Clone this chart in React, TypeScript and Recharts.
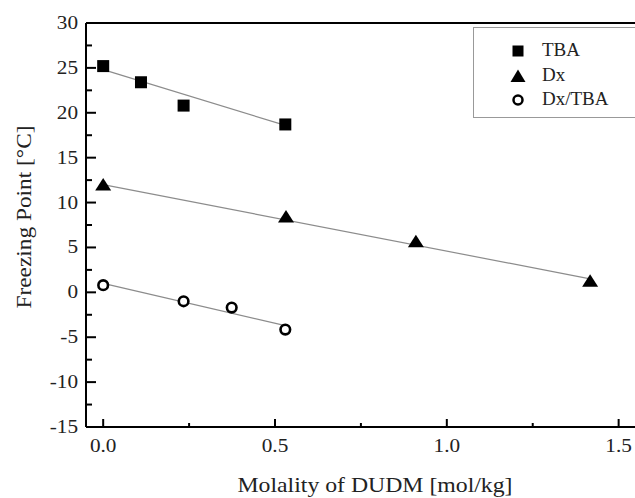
import React from 'react';
import { ComposedChart, Line, Scatter, XAxis, YAxis, ReferenceLine, Legend, Label } from 'recharts';

// measured points (molality [mol/kg], freezing point [°C])
const tbaMolality = [0, 0.11, 0.234, 0.53];
const tbaFreezing = [25.2, 23.4, 20.8, 18.7];
const dxMolality = [0, 0.532, 0.91, 1.417];
const dxFreezing = [12.0, 8.45, 5.7, 1.3];
const mixMolality = [0, 0.234, 0.374, 0.53];
const mixFreezing = [0.8, -1.0, -1.7, -4.15];

// fitted lines, end points
const tbaFitX = [0, 0.53];
const tbaFitY = [24.8, 18.6];
const dxFitX = [0, 1.417];
const dxFitY = [12.0, 1.5];
const mixFitX = [0, 0.53];
const mixFitY = [1.0, -3.7];

const xTicks = [0, 0.25, 0.5, 0.75, 1.0, 1.25, 1.5];
const xMajor = [0, 0.5, 1.0, 1.5];
const yTicks = [-15, -12.5, -10, -7.5, -5, -2.5, 0, 2.5, 5, 7.5, 10, 12.5, 15, 17.5, 20, 22.5, 25, 27.5, 30];

const legendNames = ['TBA', 'Dx', 'Dx/TBA'];

const FONT = '"Liberation Serif", "DejaVu Serif", serif';
const LINE_GRAY = '#8c8c8c';
const TEXT = '#222';
const STRETCH = 1.18; // the figure's lettering is a bit wider than the font

const toPoints = (xs: number[], ys: number[]) => xs.map((x, i) => ({ x, y: ys[i] }));

const tbaData = toPoints(tbaMolality, tbaFreezing);
const dxData = toPoints(dxMolality, dxFreezing);
const mixData = toPoints(mixMolality, mixFreezing);
const tbaFit = toPoints(tbaFitX, tbaFitY);
const dxFit = toPoints(dxFitX, dxFitY);
const mixFit = toPoints(mixFitX, mixFitY);

const SquareMark = ({ cx, cy }: any) => (
  <rect x={cx - 6} y={cy - 6} width={12} height={12} fill="#000" />
);
const TriangleMark = ({ cx, cy }: any) => (
  <polygon points={`${cx},${cy - 6.5} ${cx + 8},${cy + 6} ${cx - 8},${cy + 6}`} fill="#000" />
);
const CircleMark = ({ cx, cy }: any) => (
  <circle cx={cx} cy={cy} r={4.8} fill="#fff" stroke="#000" strokeWidth={2.6} />
);

// ticks point into the plot, minor ones are shorter and carry no label
const YTick = ({ x, y, payload }: any) => {
  const v = payload.value;
  const major = v % 5 === 0;
  return (
    <g>
      <line x1={x} x2={x + (major ? 10 : 6)} y1={y} y2={y} stroke="#000" strokeWidth={2} />
      {major && (
        <text
          transform={`translate(${x - 8}, ${y + 6}) scale(${STRETCH}, 1)`}
          textAnchor="end"
          fontFamily={FONT}
          fontSize={18}
          fill={TEXT}
        >
          {v}
        </text>
      )}
    </g>
  );
};

const XTick = ({ x, y, payload }: any) => {
  const v = payload.value;
  const major = xMajor.includes(v);
  return (
    <g>
      <line x1={x} x2={x} y1={y} y2={y - (major ? 8 : 4)} stroke="#000" strokeWidth={2} />
      {major && (
        <text
          transform={`translate(${x}, ${y + 25}) scale(${STRETCH}, 1)`}
          textAnchor="middle"
          fontFamily={FONT}
          fontSize={18}
          fill={TEXT}
        >
          {v.toFixed(1)}
        </text>
      )}
    </g>
  );
};

const LegendIcon = ({ i }: { i: number }) => (
  <svg width={18} height={18} style={{ position: 'absolute', left: -9, top: -9 }}>
    {i === 0 && <rect x={3.5} y={3.5} width={11} height={11} fill="#000" />}
    {i === 1 && <polygon points="9,2.5 16.5,15 1.5,15" fill="#000" />}
    {i === 2 && <circle cx={9} cy={9} r={4.5} fill="#fff" stroke="#000" strokeWidth={2.5} />}
  </svg>
);

const LegendBox = () => (
  <div style={{ position: 'relative', width: '100%', height: '100%' }}>
    {legendNames.map((name, i) => (
      <div key={name} style={{ position: 'absolute', left: 44, top: 23 + i * 24.5 }}>
        <LegendIcon i={i} />
        <span
          style={{
            position: 'absolute',
            left: 24,
            top: -12,
            fontFamily: FONT,
            fontSize: 19,
            lineHeight: '22px',
            color: TEXT,
            whiteSpace: 'nowrap',
          }}
        >
          {name}
        </span>
      </div>
    ))}
  </div>
);

export default function App() {
  return (
    <div
      style={{
        position: 'absolute',
        left: 0,
        top: 0,
        width: 635,
        height: 498,
        overflow: 'hidden',
        background: '#fff',
      }}
    >
      <ComposedChart width={680} height={498} margin={{ top: 23, right: 27, left: 0, bottom: 0 }}>
        <XAxis
          dataKey="x"
          type="number"
          domain={[-0.05, 1.6]}
          ticks={xTicks}
          interval={0}
          tickSize={0}
          tickMargin={0}
          tickLine={false}
          axisLine={{ stroke: '#000', strokeWidth: 2 }}
          tick={<XTick />}
          height={71}
          allowDataOverflow
        >
          <Label
            content={({ viewBox }: any) => (
              <text
                x={viewBox.x + 289}
                y={viewBox.y + 65}
                textAnchor="middle"
                fontFamily={FONT}
                fontSize={22}
                textLength={275}
                lengthAdjust="spacingAndGlyphs"
                fill={TEXT}
              >
                Molality of DUDM [mol/kg]
              </text>
            )}
          />
        </XAxis>
        <YAxis
          type="number"
          domain={[-15, 30]}
          ticks={yTicks}
          interval={0}
          tickSize={0}
          tickMargin={0}
          tickLine={false}
          axisLine={{ stroke: '#000', strokeWidth: 2 }}
          tick={<YTick />}
          width={86}
          allowDataOverflow
        >
          <Label
            content={({ viewBox }: any) => {
              const cx = 31;
              const cy = viewBox.y + viewBox.height / 2 - 8;
              return (
                <text
                  x={cx}
                  y={cy}
                  transform={`rotate(-90, ${cx}, ${cy})`}
                  textAnchor="middle"
                  fontFamily={FONT}
                  fontSize={22}
                  textLength={183}
                  lengthAdjust="spacingAndGlyphs"
                  fill={TEXT}
                >
                  Freezing Point [°C]
                </text>
              );
            }}
          />
        </YAxis>
        <ReferenceLine y={30} stroke="#000" strokeWidth={2} />
        <ReferenceLine x={1.6} stroke="#000" strokeWidth={2} />
        <Line data={tbaFit} dataKey="y" type="linear" stroke={LINE_GRAY} strokeWidth={1.2} dot={false} activeDot={false} isAnimationActive={false} />
        <Line data={dxFit} dataKey="y" type="linear" stroke={LINE_GRAY} strokeWidth={1.2} dot={false} activeDot={false} isAnimationActive={false} />
        <Line data={mixFit} dataKey="y" type="linear" stroke={LINE_GRAY} strokeWidth={1.2} dot={false} activeDot={false} isAnimationActive={false} />
        <Scatter name="TBA" data={tbaData} dataKey="y" shape={<SquareMark />} isAnimationActive={false} />
        <Scatter name="Dx" data={dxData} dataKey="y" shape={<TriangleMark />} isAnimationActive={false} />
        <Scatter name="Dx/TBA" data={mixData} dataKey="y" shape={<CircleMark />} isAnimationActive={false} />
        <Legend
          layout="vertical"
          align="center"
          verticalAlign="middle"
          content={<LegendBox />}
          wrapperStyle={{
            top: 27,
            left: 473,
            width: 200,
            height: 91,
            border: '1px solid #999',
            background: '#fff',
            boxSizing: 'border-box',
          }}
        />
      </ComposedChart>
    </div>
  );
}
